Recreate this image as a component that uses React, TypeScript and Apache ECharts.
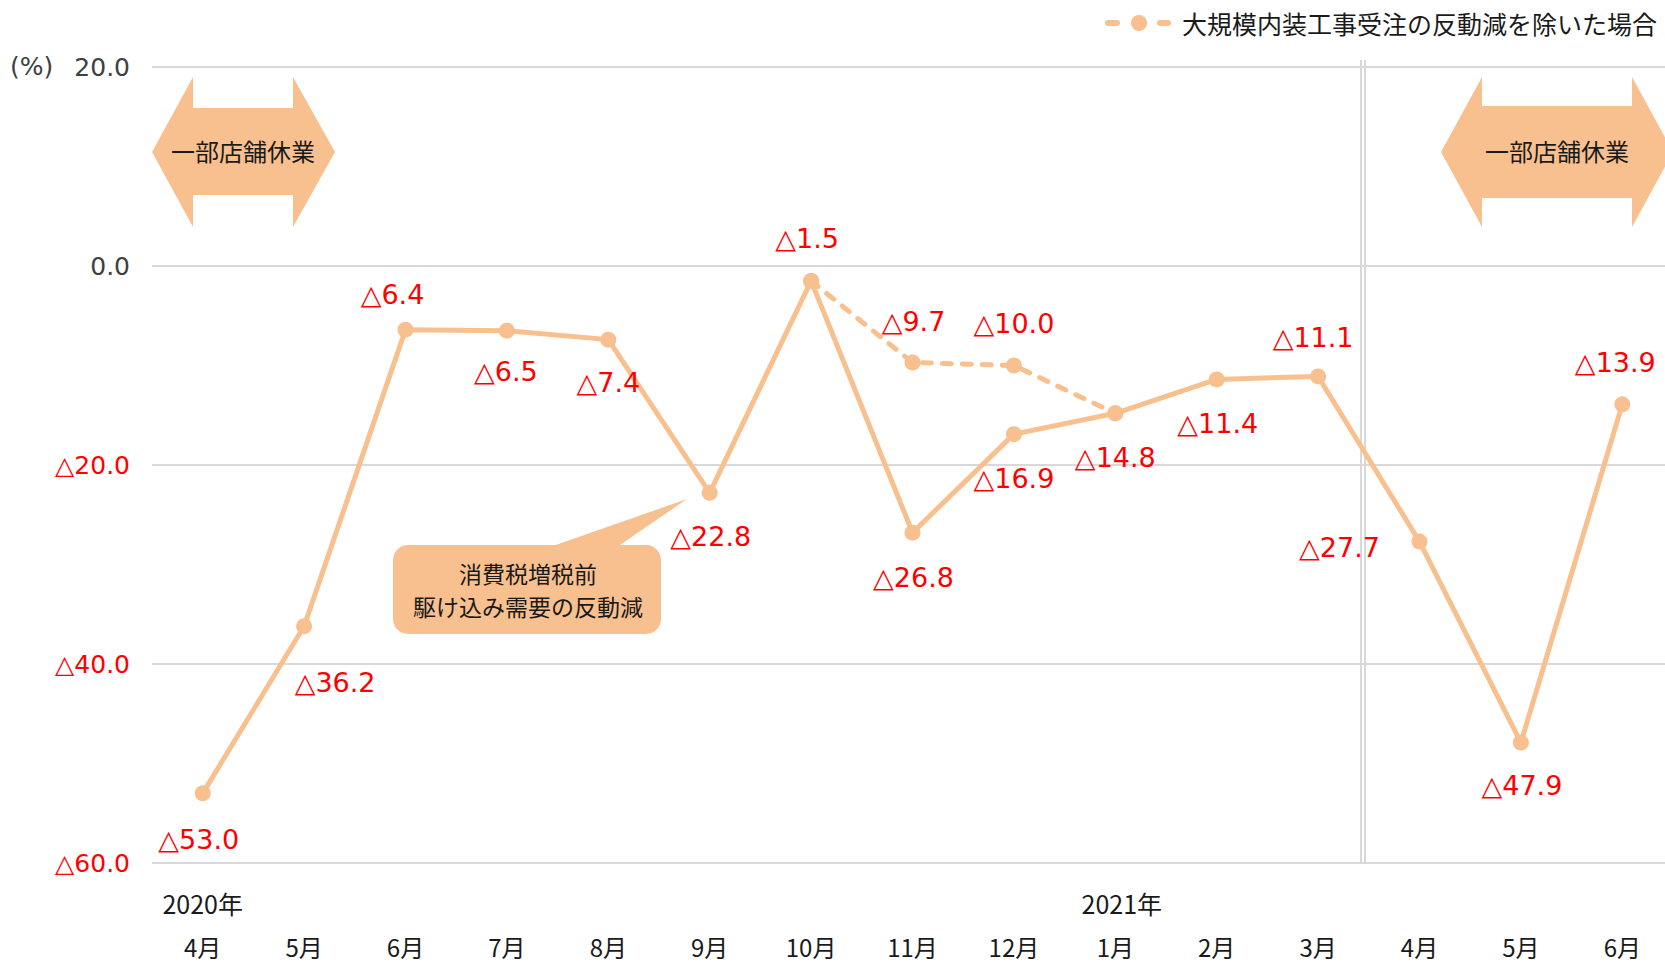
import React, { useEffect, useRef } from "react";
import * as echarts from "echarts";

const categories = ["4月", "5月", "6月", "7月", "8月", "9月", "10月", "11月", "12月", "1月", "2月", "3月", "4月", "5月", "6月"];
const years = ["2020年", "", "", "", "", "", "", "", "", "2021年", "", "", "", "", ""];
const values = [-53.0, -36.2, -6.4, -6.5, -7.4, -22.8, -1.5, -26.8, -16.9, -14.8, -11.4, -11.1, -27.7, -47.9, -13.9];
const excludedValues: (number | null)[] = [null, null, null, null, null, null, -1.5, -9.7, -10.0, -14.8, null, null, null, null, null];
const excludedLabelShown = [false, false, false, false, false, false, false, true, true, false, false, false, false, false, false];
const legendName = "大規模内装工事受注の反動減を除いた場合";
const closureText = "一部店舗休業";
const calloutLines = ["消費税増税前", "駆け込み需要の反動減"];
const yMin = -60;
const yMax = 20;
const yInterval = 20;

// label offsets (px) relative to the point
const valueLabelOffsets = [
  [-4, 46], [31, 56], [-13, -35], [-1, 41], [0, 43], [1, 44], [-4, -42], [1, 45],
  [0, 44], [0, 44], [1, 44], [-5, -39], [-80, 6], [1, 43], [-7, -42],
];
const excludedLabelOffsets = [
  [0, 0], [0, 0], [0, 0], [0, 0], [0, 0], [0, 0], [0, 0], [1, -41], [0, -42], [0, 0], [0, 0], [0, 0], [0, 0], [0, 0], [0, 0],
];

const ORANGE = "#F9C08F";
const RED = "#FF0000";
const CJK = "'Noto Sans CJK JP', 'Noto Sans', sans-serif";
const NUM = "'DejaVu Sans', Verdana, sans-serif";

const fmt = (v: number) => (v < 0 ? "△" + Math.abs(v).toFixed(1) : v.toFixed(1));

export default function App() {
  const ref = useRef<HTMLDivElement>(null);
  useEffect(() => {
    if (!ref.current) return;
    const chart = echarts.init(ref.current, undefined, { renderer: "svg" });
    const labelBase = {
      show: true,
      position: "inside",
      color: RED,
      fontFamily: NUM,
      fontSize: 27,
      formatter: (p: any) => fmt(p.value),
    };
    chart.setOption({
      animation: false,
      backgroundColor: "#ffffff",
      grid: { left: 152, top: 67, width: 1521, height: 796, outerBoundsMode: "none", containLabel: false },
      xAxis: {
        type: "category",
        data: categories,
        boundaryGap: true,
        axisLine: { show: false },
        axisTick: { show: false },
        splitLine: { show: false },
        axisLabel: {
          margin: 11,
          interval: 0,
          formatter: (v: string, i: number) => {
            const y = years[i];
            const top = y ? `{y${i}|${y}}` : `{e| }`;
            return `${top}\n{m|${v}}`;
          },
          rich: {
            y0: { fontFamily: CJK, fontSize: 25, color: "#1a1a1a", lineHeight: 57 },
            y9: { fontFamily: CJK, fontSize: 25, color: "#1a1a1a", lineHeight: 57, padding: [0, 0, 0, 13] },
            e: { fontFamily: CJK, fontSize: 25, lineHeight: 57 },
            m: { fontFamily: CJK, fontSize: 24, color: "#1a1a1a", lineHeight: 30 },
          },
        },
      },
      yAxis: {
        type: "value",
        min: yMin,
        max: yMax,
        interval: yInterval,
        axisLine: { show: false },
        axisTick: { show: false },
        splitLine: { show: true, lineStyle: { color: "#d9d9d9", width: 2 } },
        axisLabel: {
          margin: 22,
          formatter: (v: number) => (v < 0 ? `{r|${fmt(v)}}` : `{g|${fmt(v)}}`),
          rich: {
            r: { color: RED, fontFamily: NUM, fontSize: 25 },
            g: { color: "#404040", fontFamily: NUM, fontSize: 25 },
          },
        },
      },
      series: [
        {
          name: "実績",
          type: "line",
          data: values.map((v, i) => ({
            value: v,
            label: { offset: valueLabelOffsets[i] },
          })),
          symbol: "circle",
          symbolSize: 16,
          lineStyle: { color: ORANGE, width: 5 },
          itemStyle: { color: ORANGE },
          label: labelBase,
          z: 3,
        },
        {
          name: legendName,
          type: "line",
          data: excludedValues.map((v, i) =>
            v === null
              ? "-"
              : { value: v, label: { show: excludedLabelShown[i], offset: excludedLabelOffsets[i] } }
          ),
          symbol: "circle",
          symbolSize: 16,
          lineStyle: { color: ORANGE, width: 5, type: [9, 11], cap: "round" },
          itemStyle: { color: ORANGE },
          label: labelBase,
          z: 4,
        },
      ],
      graphic: [
        // double vertical separator
        { type: "line", shape: { x1: 1361, y1: 60, x2: 1361, y2: 864 }, style: { stroke: "#d9d9d9", lineWidth: 2 }, z: 1 },
        { type: "line", shape: { x1: 1365, y1: 60, x2: 1365, y2: 864 }, style: { stroke: "#d9d9d9", lineWidth: 2 }, z: 1 },
        // (%) unit
        { type: "text", x: 10, y: 66, style: { text: "(%)", font: `25px ${NUM}`, fill: "#404040", verticalAlign: "middle" } },
        // legend
        { type: "line", shape: { x1: 1108, y1: 23, x2: 1117, y2: 23 }, style: { stroke: ORANGE, lineWidth: 6, lineCap: "round" } },
        { type: "circle", shape: { cx: 1139, cy: 23, r: 8 }, style: { fill: ORANGE } },
        { type: "line", shape: { x1: 1160, y1: 23, x2: 1168, y2: 23 }, style: { stroke: ORANGE, lineWidth: 6, lineCap: "round" } },
        { type: "text", x: 1182, y: 23, style: { text: legendName, font: `25px ${CJK}`, fill: "#1a1a1a", verticalAlign: "middle" } },
        // left closure arrow
        {
          type: "polygon",
          shape: { points: [[152, 152], [193, 77], [193, 108], [293, 108], [293, 77], [335, 152], [293, 227], [293, 195], [193, 195], [193, 227]] },
          style: { fill: ORANGE },
        },
        { type: "text", x: 243, y: 150, style: { text: closureText, font: `24px ${CJK}`, fill: "#1a1a1a", align: "center", verticalAlign: "middle" } },
        // right closure arrow
        {
          type: "polygon",
          shape: { points: [[1441, 152], [1482, 77], [1482, 106], [1632, 106], [1632, 77], [1673, 152], [1632, 227], [1632, 198], [1482, 198], [1482, 227]] },
          style: { fill: ORANGE },
        },
        { type: "text", x: 1557, y: 150, style: { text: closureText, font: `24px ${CJK}`, fill: "#1a1a1a", align: "center", verticalAlign: "middle" } },
        // callout
        { type: "polygon", shape: { points: [[550, 547], [687, 499], [617, 547]] }, style: { fill: ORANGE } },
        { type: "rect", shape: { x: 393, y: 545, width: 268, height: 89, r: 15 }, style: { fill: ORANGE } },
        { type: "text", x: 528, y: 573, style: { text: calloutLines[0], font: `23px ${CJK}`, fill: "#1a1a1a", align: "center", verticalAlign: "middle" } },
        { type: "text", x: 528, y: 606, style: { text: calloutLines[1], font: `23px ${CJK}`, fill: "#1a1a1a", align: "center", verticalAlign: "middle" } },
      ],
    });
    return () => chart.dispose();
  }, []);
  return <div ref={ref} style={{ position: "absolute", left: 0, top: 0, width: 1665, height: 964, overflow: "hidden" }} />;
}
